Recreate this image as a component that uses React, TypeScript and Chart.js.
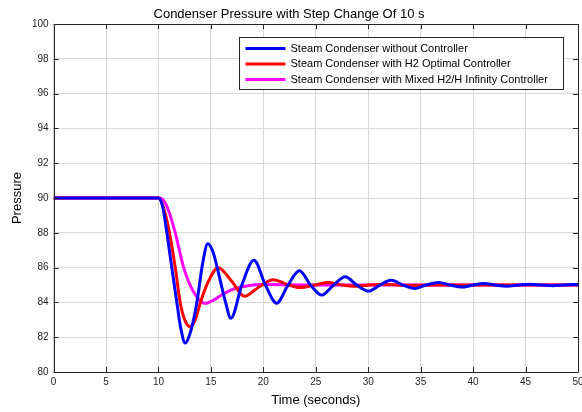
import React, { useEffect, useRef } from "react";
import { Chart, registerables } from "chart.js";

Chart.register(...registerables);

const TITLE = "Condenser Pressure with Step Change Of 10 s";
const X_TITLE = "Time (seconds)";
const Y_TITLE = "Pressure";

const SERIES_LABELS = [
  "Steam Condenser without Controller",
  "Steam Condenser with H2 Optimal Controller",
  "Steam Condenser with Mixed H2/H Infinity Controller",
];
const SERIES_COLORS = ["#0000FF", "#FF0000", "#FF00FF"];

// Blue: without controller
const blueTime = [0, 10, 10.4, 10.8, 11.27, 11.75, 12.1, 12.55, 13.1, 13.66, 14.2, 14.7, 15.2, 15.6, 16.4, 16.9,
  17.95, 19.1, 20.2, 21.27, 22.35, 23.44, 24.5, 25.57, 26.7, 27.8, 28.9, 30.05, 31.1, 32.2, 33.3, 34.4, 35.5, 36.7,
  37.8, 38.9, 40.0, 41.0, 42.1, 43.2, 44.3, 45.4, 46.5, 47.6, 48.7, 49.8, 50];
const bluePressure = [90, 90, 89.5, 88, 86, 84, 82.6, 81.66, 82.4, 84, 86.2, 87.37, 86.9, 86, 84, 83.09,
  85, 86.42, 85, 83.95, 85, 85.82, 85, 84.42, 85, 85.48, 85, 84.65, 85, 85.27, 85, 84.8, 85, 85.15,
  85, 84.88, 85, 85.09, 85, 84.93, 85, 85.05, 85, 84.96, 85, 85.03, 85.02];

// Red: H2 optimal controller
const redTime = [0, 10, 10.5, 11.05, 11.6, 12.07, 12.5, 13.0, 13.5, 14.0, 14.6, 15.7, 17.0, 18.2, 19.6, 20.96,
  22.2, 23.5, 24.9, 26.2, 27.5, 28.8, 30.1, 31.4, 32.7, 34.0, 36, 50];
const redPressure = [90, 90, 89.4, 88, 86, 84, 83.0, 82.6, 83.0, 84, 85, 86.0, 85.2, 84.35, 84.9, 85.3,
  85.05, 84.86, 85.0, 85.14, 85.0, 84.93, 85.0, 85.05, 85.0, 84.98, 85.0, 85.0];

// Magenta: mixed H2/H-infinity controller
const magTime = [0, 10, 10.5, 10.95, 11.6, 12.4, 13.35, 14.46, 15.3, 16.2, 17.3, 18.4, 20, 25, 50];
const magPressure = [90, 90, 89.85, 89.3, 88, 86, 84.6, 83.94, 84.15, 84.5, 84.8, 84.95, 85.03, 85.0, 85.0];

const X_MIN = 0, X_MAX = 50, X_STEP = 5;
const Y_MIN = 80, Y_MAX = 100, Y_STEP = 2;

const FONT = "'Liberation Sans', Arial, Helvetica, sans-serif";

function toPoints(t: number[], p: number[]) {
  return t.map((x, i) => ({ x, y: p[i] }));
}

const boxPlugin = {
  id: "matlabBox",
  afterDatasetsDraw(chart: any) {
    const { ctx, chartArea } = chart;
    const { left, right, top, bottom } = chartArea;
    const xs = chart.scales.x;
    const ys = chart.scales.y;
    ctx.save();
    ctx.strokeStyle = "#262626";
    ctx.lineWidth = 1;
    ctx.beginPath();
    ctx.rect(Math.round(left) + 0.5, Math.round(top) + 0.5, Math.round(right - left), Math.round(bottom - top));
    ctx.stroke();
    // inner ticks
    const tl = 5;
    ctx.beginPath();
    for (let v = X_MIN; v <= X_MAX; v += X_STEP) {
      const px = Math.round(xs.getPixelForValue(v)) + 0.5;
      ctx.moveTo(px, bottom);
      ctx.lineTo(px, bottom - tl);
      ctx.moveTo(px, top);
      ctx.lineTo(px, top + tl);
    }
    for (let v = Y_MIN; v <= Y_MAX; v += Y_STEP) {
      const py = Math.round(ys.getPixelForValue(v)) + 0.5;
      ctx.moveTo(left, py);
      ctx.lineTo(left + tl, py);
      ctx.moveTo(right, py);
      ctx.lineTo(right - tl, py);
    }
    ctx.stroke();
    ctx.restore();
  },
  afterDraw(chart: any) {
    const { ctx, chartArea } = chart;
    const w = 324, h = 52;
    const x0 = Math.round(chartArea.right - 15 - w) + 0.5;
    const y0 = Math.round(chartArea.top + 12.5) + 0.5;
    ctx.save();
    ctx.fillStyle = "#ffffff";
    ctx.fillRect(x0, y0, w, h);
    ctx.strokeStyle = "#262626";
    ctx.lineWidth = 1;
    ctx.strokeRect(x0, y0, w, h);
    ctx.font = `11px ${FONT}`;
    ctx.textBaseline = "middle";
    ctx.textAlign = "left";
    chart.data.datasets.forEach((ds: any, i: number) => {
      const cy = y0 + 11 + i * 15.5;
      ctx.strokeStyle = ds.borderColor;
      ctx.lineWidth = 3;
      ctx.beginPath();
      ctx.moveTo(x0 + 6, cy);
      ctx.lineTo(x0 + 46, cy);
      ctx.stroke();
      ctx.fillStyle = "#000000";
      ctx.fillText(ds.label, x0 + 51, cy);
    });
    ctx.restore();
  },
};

export default function App() {
  const canvasRef = useRef<HTMLCanvasElement | null>(null);

  useEffect(() => {
    document.body.style.margin = "0";
    const canvas = canvasRef.current;
    if (!canvas) return;
    const chart = new Chart(canvas, {
      type: "line",
      data: {
        datasets: [
          { label: SERIES_LABELS[0], data: toPoints(blueTime, bluePressure), borderColor: SERIES_COLORS[0] },
          { label: SERIES_LABELS[1], data: toPoints(redTime, redPressure), borderColor: SERIES_COLORS[1] },
          { label: SERIES_LABELS[2], data: toPoints(magTime, magPressure), borderColor: SERIES_COLORS[2] },
        ].map((d) => ({
          ...d,
          borderWidth: 3,
          pointRadius: 0,
          fill: false,
          cubicInterpolationMode: "monotone" as const,
        })),
      },
      plugins: [boxPlugin],
      options: {
        responsive: false,
        animation: false,
        devicePixelRatio: 1,
        layout: { padding: { left: 0, right: 4, top: 0, bottom: 0 } },
        plugins: {
          legend: { display: false },
          tooltip: { enabled: false },
          title: {
            display: true,
            text: TITLE,
            color: "#000",
            font: { family: FONT, size: 13, weight: "normal" },
            padding: { top: 6.5, bottom: 2 },
          },
        },
        scales: {
          x: {
            type: "linear",
            min: X_MIN,
            max: X_MAX,
            ticks: {
              stepSize: X_STEP,
              color: "#262626",
              font: { family: FONT, size: 10 },
              padding: 4,
              maxRotation: 0,
            },
            grid: { color: "#d8d8d8", drawTicks: false, lineWidth: 1 },
            border: { display: false },
            title: {
              display: true,
              text: X_TITLE,
              color: "#000",
              font: { family: FONT, size: 13 },
              padding: { top: 0, bottom: 4 },
            },
            afterFit: (s: any) => {
              s.height = 40;
              s.paddingLeft = 0;
              s.paddingRight = 0;
            },
          },
          y: {
            type: "linear",
            min: Y_MIN,
            max: Y_MAX,
            ticks: {
              stepSize: Y_STEP,
              color: "#262626",
              font: { family: FONT, size: 10 },
              padding: 5,
            },
            grid: { color: "#d8d8d8", drawTicks: false, lineWidth: 1 },
            border: { display: false },
            title: {
              display: true,
              text: Y_TITLE,
              color: "#000",
              font: { family: FONT, size: 13 },
              padding: { top: 10, bottom: 0 },
            },
            afterFit: (s: any) => {
              s.width = 53.6;
              s.paddingTop = 0;
              s.paddingBottom = 0;
            },
          },
        },
      },
    });
    return () => chart.destroy();
  }, []);

  return (
    <div style={{ width: 582, height: 412, background: "#fff" }}>
      <canvas ref={canvasRef} width={582} height={412} style={{ display: "block" }} />
    </div>
  );
}
